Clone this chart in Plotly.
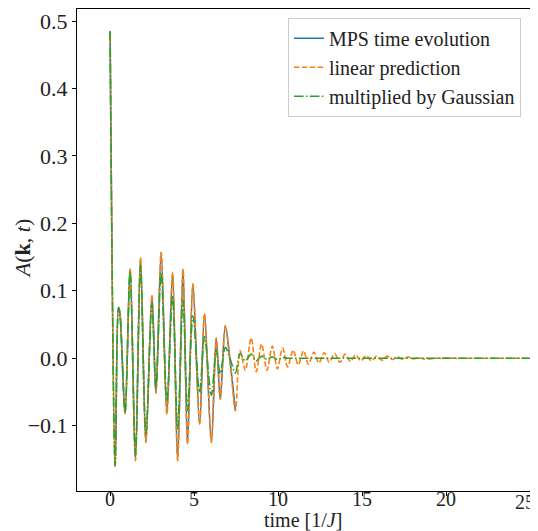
import plotly.graph_objects as go

# MPS time evolution
t_mps = [0.0, 0.30, 0.50, 0.58, 0.89, 1.19, 1.51, 1.81, 2.13, 2.49, 2.73, 3.04, 3.38,
         3.72, 4.02, 4.34, 4.61, 4.93, 5.33, 5.62, 6.03, 6.32, 6.56, 6.86, 7.16, 7.46]
a_mps = [0.485, -0.160, 0.075, 0.068, -0.082, 0.133, -0.152, 0.149, -0.125, 0.093, -0.052,
         0.157, -0.083, 0.127, -0.152, 0.132, -0.127, 0.110, -0.098, 0.066, -0.125, 0.030,
         -0.061, 0.048, -0.008, -0.078]

# linear prediction continuation beyond the MPS data
t_tail = [7.74, 8.05, 8.40, 8.70, 9.02, 9.34, 9.66, 9.96, 10.27, 10.57, 10.90, 11.20,
          11.52, 11.81, 12.13, 12.43, 12.75, 13.05, 13.37, 13.68, 14.00, 14.31, 14.62,
          14.93, 15.25, 15.56, 15.87, 16.18, 16.50, 16.81, 17.12, 17.43, 17.75, 18.06,
          18.37, 18.68, 19.50, 21.00, 23.00, 25.00]
a_tail = [0.011, -0.018, 0.030, -0.020, 0.021, -0.018, 0.018, -0.016, 0.015, -0.013,
          0.012, -0.010, 0.011, -0.009, 0.009, -0.007, 0.008, -0.006, 0.007, -0.006,
          0.006, -0.005, 0.005, -0.004, 0.004, -0.004, 0.003, -0.003, 0.003, -0.002,
          0.002, -0.002, 0.002, -0.001, 0.001, -0.001, 0.0, 0.0, 0.0, 0.0]

t_lp = t_mps + t_tail
a_lp = a_mps + a_tail

# multiplied by Gaussian
a_gauss = [0.485, -0.160, 0.075, 0.067, -0.081, 0.129, -0.144, 0.138, -0.113, 0.081, -0.044,
           0.127, -0.064, 0.093, -0.105, 0.086, -0.078, 0.063, -0.051, 0.032, -0.055, 0.012,
           -0.023, 0.016, -0.002, -0.022,
           0.007, -0.004, 0.006, -0.004, 0.003, -0.002, 0.002, -0.002, 0.001, 0.0,
           0.0, 0.0, 0.0, 0.0, 0.0, 0.0, 0.0, 0.0, 0.0, 0.0, 0.0, 0.0, 0.0, 0.0,
           0.0, 0.0, 0.0, 0.0, 0.0, 0.0, 0.0, 0.0, 0.0, 0.0, 0.0, 0.0, 0.0, 0.0, 0.0, 0.0]

x_ticks = [0, 5, 10, 15, 20, 25]
y_ticks = [-0.1, 0.0, 0.1, 0.2, 0.3, 0.4, 0.5]

FONT = "Liberation Serif"
FS = 22
TXT = "#222"

fig = go.Figure()
fig.add_trace(go.Scatter(x=t_mps, y=a_mps, mode="lines", name="MPS time evolution",
                         line=dict(color="#1f77b4", width=1.6, shape="spline", smoothing=0.9)))
fig.add_trace(go.Scatter(x=t_lp, y=a_lp, mode="lines", name="linear prediction",
                         line=dict(color="#ff7f0e", width=1.6, dash="5.5px,2.4px",
                                   shape="spline", smoothing=0.9)))
fig.add_trace(go.Scatter(x=t_lp, y=a_gauss, mode="lines", name="multiplied by Gaussian",
                         line=dict(color="#2ca02c", width=1.6, dash="9.6px,2.4px,1.5px,2.4px",
                                   shape="spline", smoothing=0.9)))

axis_common = dict(showline=True, linecolor="black", linewidth=1, mirror=True,
                   ticks="outside", ticklen=4, tickwidth=1, tickcolor="black",
                   showgrid=False, zeroline=False, automargin=False)

fig.update_xaxes(range=[-1.97, 25], tickvals=x_ticks, ticklabelstandoff=-14,
                 tickfont=dict(family=FONT, size=20, color=TXT), **axis_common)
fig.update_yaxes(range=[-0.197, 0.518], tickvals=y_ticks, tickformat=".1f",
                 tickfont=dict(family=FONT, size=FS, color=TXT), **axis_common)

# last x tick label sits at the very edge of the figure
fig.add_annotation(text=str(x_ticks[-1]), xref="paper", yref="paper",
                   x=1.0155, y=-0.023, xanchor="right", yanchor="middle", showarrow=False,
                   font=dict(family=FONT, size=20, color=TXT))
fig.add_annotation(text="time [1/<i>J</i>]", xref="paper", yref="paper",
                   x=0.499, y=-0.061, xanchor="center", yanchor="middle", showarrow=False,
                   font=dict(family=FONT, size=20, color=TXT))
fig.add_annotation(text="<i>A</i>(<b>k</b>, <i>t</i>)", xref="paper", yref="paper",
                   x=-0.121, y=0.502, xanchor="center", yanchor="middle", showarrow=False,
                   textangle=-90, font=dict(family=FONT, size=FS, color=TXT))

fig.update_layout(
    width=530, height=523,
    margin=dict(l=69, r=8, t=1, b=40),
    plot_bgcolor="white", paper_bgcolor="white",
    font=dict(family=FONT, size=FS, color=TXT),
    legend=dict(x=0.98, y=0.982, xanchor="right", yanchor="top",
                bgcolor="rgba(255,255,255,0.8)", bordercolor="#ccc", borderwidth=1,
                font=dict(family=FONT, size=20, color=TXT),
                itemwidth=30, tracegroupgap=0),
    showlegend=True,
)

fig.write_html("out.html")
